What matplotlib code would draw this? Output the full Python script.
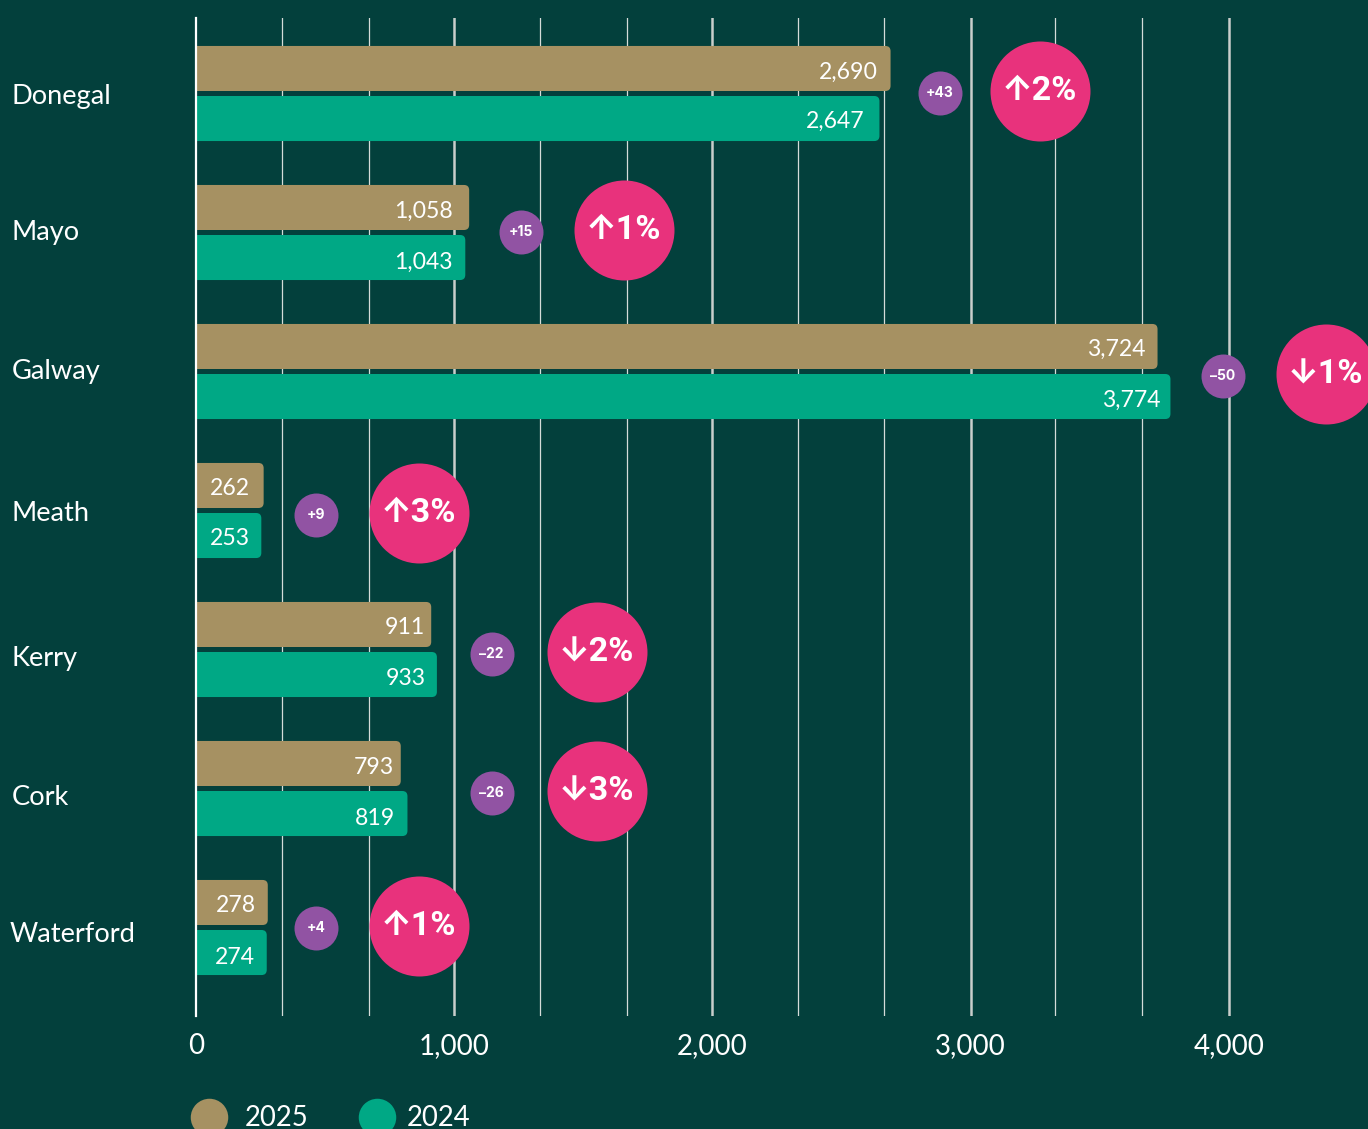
import matplotlib
matplotlib.use('Agg')
import matplotlib.pyplot as plt
from matplotlib.lines import Line2D
from matplotlib.patches import FancyBboxPatch, Rectangle
from matplotlib.transforms import blended_transform_factory

counties = ['Donegal', 'Mayo', 'Galway', 'Meath', 'Kerry', 'Cork', 'Waterford']
values_2025 = [2690, 1058, 3724, 262, 911, 793, 278]
values_2024 = [2647, 1043, 3774, 253, 933, 819, 274]
diff_labels = ['+43', '+15', '\u201350', '+9', '\u201322', '\u201326', '+4']
pct_labels = ['\u21912%', '\u21911%', '\u21931%', '\u21913%', '\u21932%', '\u21933%', '\u21911%']

major_ticks = [0, 1000, 2000, 3000, 4000]
minor_ticks = [333, 670, 1332, 1669, 2331, 2665, 3327, 3664]
tick_labels = ['0', '1,000', '2,000', '3,000', '4,000']

# where the bubbles sit, x in chart units, y in rows
diff_x = [2880, 1258, 3976, 464, 1145, 1145, 464]
pct_x = [3268, 1657, 4375, 863, 1552, 1552, 863]
bubble_y = [-0.017, -0.017, 0.019, 0.019, 0.019, 0.019, -0.010]
name_y = [0.024, 0.002, 0.002, 0.024, 0.067, 0.067, 0.052]
name_x = [11, 11, 12, 11, 11, 12, 10]

# label nudges in pixels, the page placed these a bit unevenly
dx_2025 = [-12.5, -16.5, -11.5, -13.5, -6.5, -6.5, -11.5]
dx_2024 = [-14.5, -12.5, -9.5, -11.5, -11.5, -12.5, -11.5]
dy_2025 = [2, 2, 1, 2, 2, 3, 2]
dy_2024 = [1, 3, 2, 2, 3, 4, 4]

BG = '#03403c'
TAN = '#a69162'
GREEN = '#00a885'
PINK = '#e8327c'
PURPLE = '#9153a3'

W, H = 1368, 1129
PX_PER_UNIT = 0.2582
ROW = 139

plt.rcParams['font.family'] = ['Lato', 'DejaVu Sans']

fig = plt.figure(figsize=(W / 100, H / 100), dpi=100, facecolor=BG)
ax = fig.add_axes([196 / W, 1 - 1016 / H, (W - 196) / W, 998 / H], facecolor=BG)
ax.set_xlim(0, (W - 196) / PX_PER_UNIT)
ax.set_ylim((1016 - 93.5) / ROW, (18 - 93.5) / ROW)

for s in ['top', 'right', 'bottom']:
    ax.spines[s].set_visible(False)
ax.spines['left'].set_color('white')
ax.spines['left'].set_linewidth(1.6)
ax.spines['left'].set_zorder(6)

for v in minor_ticks:
    ax.axvline(v, color='#d5dcd9', lw=0.9, zorder=1)
for v in major_ticks[1:]:
    ax.axvline(v, color='#c9cecb', lw=1.8, zorder=1)

ax.set_xticks(major_ticks)
ax.set_xticklabels(tick_labels, fontsize=20, color='white')
ax.tick_params(axis='x', length=0, pad=12)
ax.set_yticks([])

name_trans = blended_transform_factory(fig.transFigure, ax.transData)


def rounded_bar(row, value, color):
    # starts left of zero and gets clipped, so only the right end looks rounded
    patch = FancyBboxPatch((-40, row - 0.162), value + 40, 0.324,
                           boxstyle='round,pad=0,rounding_size=20',
                           mutation_aspect=PX_PER_UNIT / ROW,
                           fc=color, ec='none', zorder=3)
    ax.add_patch(patch)
    patch.set_clip_path(Rectangle((0, -1), 6000, 10, transform=ax.transData))


def bar_label(row, value, dx, dy):
    ax.annotate(f'{value:,}', (value, row), xytext=(dx * 0.72, -1 - dy * 0.72),
                textcoords='offset points', ha='right', va='center',
                color='white', fontsize=16.6, zorder=4)


for i, county in enumerate(counties):
    rounded_bar(i - 0.18, values_2025[i], TAN)
    rounded_bar(i + 0.18, values_2024[i], GREEN)
    bar_label(i - 0.18, values_2025[i], dx_2025[i], dy_2025[i])
    bar_label(i + 0.18, values_2024[i], dx_2024[i], dy_2024[i])
    ax.text(name_x[i] / W, i + name_y[i], county, color='white', fontsize=19.6,
            ha='left', va='center', clip_on=False, transform=name_trans)

ax.scatter(diff_x, [i + b + 0.014 for i, b in enumerate(bubble_y)], s=(44 * 0.72) ** 2,
           color=PURPLE, linewidths=0, zorder=5, clip_on=False)
ax.scatter(pct_x, [i + b for i, b in enumerate(bubble_y)], s=72 ** 2,
           color=PINK, linewidths=0, zorder=5, clip_on=False)

for i in range(len(counties)):
    ax.text(diff_x[i], i + bubble_y[i] + 0.014, diff_labels[i], color='white', fontsize=10,
            fontweight='bold', family=['Inter', 'DejaVu Sans'], ha='center', va='center',
            zorder=6, clip_on=True)
    ax.text(pct_x[i], i + bubble_y[i], pct_labels[i], color='white', fontsize=24.5,
            fontweight='bold', family=['Roboto', 'Inter', 'DejaVu Sans'], ha='center', va='center',
            zorder=6, clip_on=True)

# legend, cut by the bottom edge as in the page
for px, c in [(209, TAN), (377, GREEN)]:
    fig.add_artist(Line2D([px / W], [1 - 1117 / H], marker='o', ms=27, mfc=c, mec='none',
                          ls='none', transform=fig.transFigure))
fig.text(245 / W, 1 - 1117.5 / H, '2025', color='white', fontsize=19.8, va='center')
fig.text(407 / W, 1 - 1117.5 / H, '2024', color='white', fontsize=19.8, va='center')

fig.savefig('out.png', dpi=100, facecolor=BG)
